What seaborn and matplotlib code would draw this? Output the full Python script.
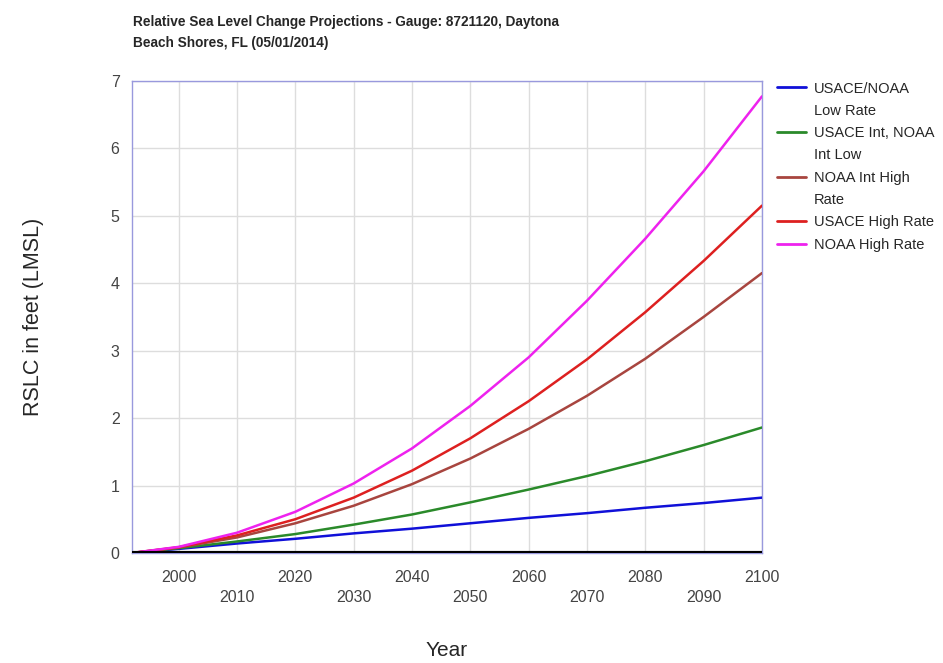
import pandas as pd
import numpy as np
import matplotlib.pyplot as plt
import seaborn as sns

# 数据
years = [1992, 2000, 2010, 2020, 2030, 2040, 2050, 2060, 2070, 2080, 2090, 2100]
low_rate = [0, 0.06, 0.14, 0.21, 0.29, 0.36, 0.44, 0.52, 0.59, 0.67, 0.74, 0.82]
int_low = [0, 0.07, 0.17, 0.28, 0.42, 0.57, 0.75, 0.94, 1.14, 1.36, 1.60, 1.86]
int_high = [0, 0.08, 0.23, 0.44, 0.70, 1.02, 1.40, 1.84, 2.33, 2.88, 3.50, 4.15]
usace_high = [0, 0.085, 0.26, 0.50, 0.82, 1.22, 1.70, 2.25, 2.87, 3.57, 4.33, 5.15]
noaa_high = [0, 0.09, 0.30, 0.61, 1.03, 1.55, 2.18, 2.90, 3.74, 4.66, 5.66, 6.77]

names = ['USACE/NOAA\nLow Rate', 'USACE Int, NOAA\nInt Low', 'NOAA Int High\nRate',
         'USACE High Rate', 'NOAA High Rate']
colors = ['#1010d8', '#2a8a2a', '#a8453f', '#dd2020', '#ee22ee']

df = pd.DataFrame({'Year': years * 5,
                   'RSLC': low_rate + int_low + int_high + usace_high + noaa_high,
                   'series': [n for n in names for _ in years]})

sns.set_style('white')
plt.rcParams['font.family'] = ['Liberation Sans', 'DejaVu Sans']

fig = plt.figure(figsize=(9.43, 6.63), dpi=100)
ax = fig.add_axes([0.140, 0.166, 0.668, 0.712])

ax = sns.lineplot(data=df, x='Year', y='RSLC', hue='series', palette=colors,
                  hue_order=names, linewidth=1.8, ax=ax, legend=False, zorder=3)

ax.axhline(0, color='black', linewidth=3, zorder=4)
ax.set_xlim(1992, 2100)
ax.set_ylim(0, 7)
ax.set_yticks(range(0, 8))
ax.set_xticks(range(2000, 2101, 10))
ax.set_xticklabels([str(y) if (y // 10) % 2 == 0 else '\n' + str(y)
                    for y in range(2000, 2101, 10)])
ax.tick_params(axis='both', length=0, labelsize=11.5, labelcolor='#444444')
ax.tick_params(axis='x', pad=12)
for t in ax.get_xticklabels():
    t.set_linespacing(1.45)
ax.tick_params(axis='y', pad=9)
ax.grid(True, color='#dddddd', linewidth=1)
for s in ax.spines.values():
    s.set_color('#9999dd')
    s.set_linewidth(1)

ax.set_xlabel('Year', fontsize=15, labelpad=26)
ax.set_ylabel('RSLC in feet (LMSL)', fontsize=15.5, labelpad=48)

# 图例：第一行带线，第二行不带线（线与首行对齐）
handles, labels = [], []
for n, c in zip(names, colors):
    parts = n.split('\n')
    handles.append(plt.Line2D([], [], color=c, linewidth=2))
    labels.append(parts[0])
    for p in parts[1:]:
        handles.append(plt.Line2D([], [], color='none'))
        labels.append(p)
leg = ax.legend(handles, labels, loc='upper left', bbox_to_anchor=(1.015, 1.011), frameon=False,
                fontsize=10.5, handlelength=2.0, handletextpad=0.5, labelspacing=0.57,
                borderaxespad=0)

fig.text(0.141, 0.977, 'Relative Sea Level Change Projections - Gauge: 8721120, Daytona\n'
         'Beach Shores, FL (05/01/2014)', fontsize=9.8, fontweight='bold',
         va='top', ha='left', linespacing=1.6)

plt.savefig('out.png', dpi=100)
